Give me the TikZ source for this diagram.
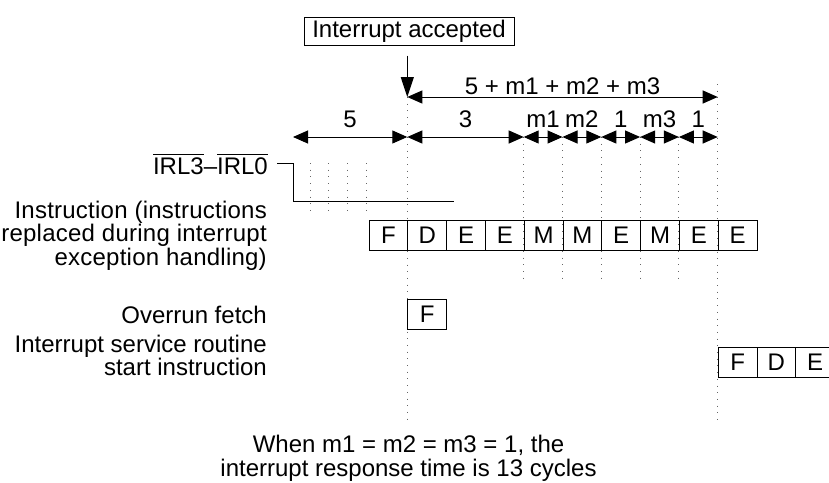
\documentclass[tikz,border=0pt]{standalone}
\usepackage{fontspec}
\setmainfont{Liberation Sans}
\newfontfamily\widesans[LetterSpace=1]{Liberation Sans}
\usetikzlibrary{arrows.meta}
\newcommand{\barred}[1]{\leavevmode\setbox0=\hbox{#1}\rlap{\rule[\dimexpr\ht0+3pt\relax]{\wd0}{1pt}}\box0}
\begin{document}
\begin{tikzpicture}[x=1pt,y=-1pt,
  lbl/.style={font=\fontsize{24}{23.5}\selectfont, inner sep=0pt},
  widelbl/.style={font=\fontsize{24}{23.5}\widesans, inner sep=0pt},
  cell/.style={draw, line width=1pt, minimum width=38.8pt, minimum height=30pt, inner sep=0pt, font=\fontsize{24}{24}\selectfont, anchor=north west},
  dim/.style={line width=1pt, {Triangle[length=15pt,width=13pt]}-{Triangle[length=15pt,width=13pt]}},
  downarrow/.style={line width=1pt, -{Triangle[length=20pt,width=13pt]}},
  grid/.style={black!60, line width=1pt, dash pattern=on 1pt off 5.7pt},
  wave/.style={line width=1pt},
]
\useasboundingbox (0,0) rectangle (829,482);

% time coordinates
\coordinate (ta) at (293,137);
\coordinate (t0) at (407.3,137);
\coordinate (t4) at (523.7,137);
\coordinate (t5) at (562.5,137);
\coordinate (t6) at (601.3,137);
\coordinate (t7) at (640.1,137);
\coordinate (t8) at (678.9,137);
\coordinate (t9) at (717.7,137);
\coordinate (u0) at (407.3,97);
\coordinate (u9) at (717.7,97);

% dotted guide lines
\draw[grid] (u0) -- (407.3,420);
\draw[grid] (717.7,84) -- (717.7,420);
\foreach \c in {t4,t5,t6,t7,t8} \draw[grid] (\c) -- (\c |- 0,283);
\foreach \x in {310,328.5,347,366} \draw[grid] (\x,163) -- (\x,211);

% interrupt accepted
\node[draw, line width=1pt, lbl, minimum width=210pt, minimum height=28pt] (ia) at (409,31) {Interrupt accepted};
\draw[downarrow, shorten <=10pt] (u0 |- ia.south) -- (u0);

% dimension arrows
\draw[dim] (u0) -- node[lbl, anchor=base, yshift=2.5pt] {5 + m1 + m2 + m3} (u9);
\draw[dim] (ta) -- node[lbl, anchor=base, yshift=10pt] {5} (t0);
\draw[dim] (t0) -- node[lbl, anchor=base, yshift=10pt] {3} (t4);
\draw[dim] (t4) -- node[lbl, anchor=base, yshift=10pt] {m1} (t5);
\draw[dim] (t5) -- node[lbl, anchor=base, yshift=10pt] {m2} (t6);
\draw[dim] (t6) -- node[lbl, anchor=base, yshift=10pt] {1} (t7);
\draw[dim] (t7) -- node[lbl, anchor=base, yshift=10pt] {m3} (t8);
\draw[dim] (t8) -- node[lbl, anchor=base, yshift=10pt] {1} (t9);

% IRL signal
\node[lbl, anchor=east] (irl) at (268,164) {\barred{IRL3}–\barred{IRL0}};
\coordinate (w1) at (293,201);
\coordinate (w2) at (454,201);
\draw[wave] ([xshift=9pt]irl.east |- 0,163) -| (w1) -- (w2);

% instruction row
\node[widelbl, anchor=north east, align=right] (instr) at (267,200.5) {Instruction (instructions\\replaced during interrupt\\exception handling)};
\foreach \l [count=\k from 0] in {F,D,E,E,M,M,E,M,E,E}
  \node[cell] (i\k) at ({368.5+38.8*\k},220) {\l};

% overrun fetch
\node[lbl, anchor=east] (ovl) at (267,315) {Overrun fetch};
\node[cell] (ov) at (407.3,299) {F};

% interrupt service routine
\node[lbl, anchor=north east, align=right] (isr) at (267,334.5) {Interrupt service routine\\start instruction};
\foreach \l [count=\k from 0] in {F,D,E}
  \node[cell] (s\k) at ({717.7+38.8*\k},347) {\l};

% note
\node[lbl, anchor=north, align=center] (note) at (408.5,435) {When m1 = m2 = m3 = 1, the\\interrupt response time is 13 cycles};
\end{tikzpicture}
\end{document}
